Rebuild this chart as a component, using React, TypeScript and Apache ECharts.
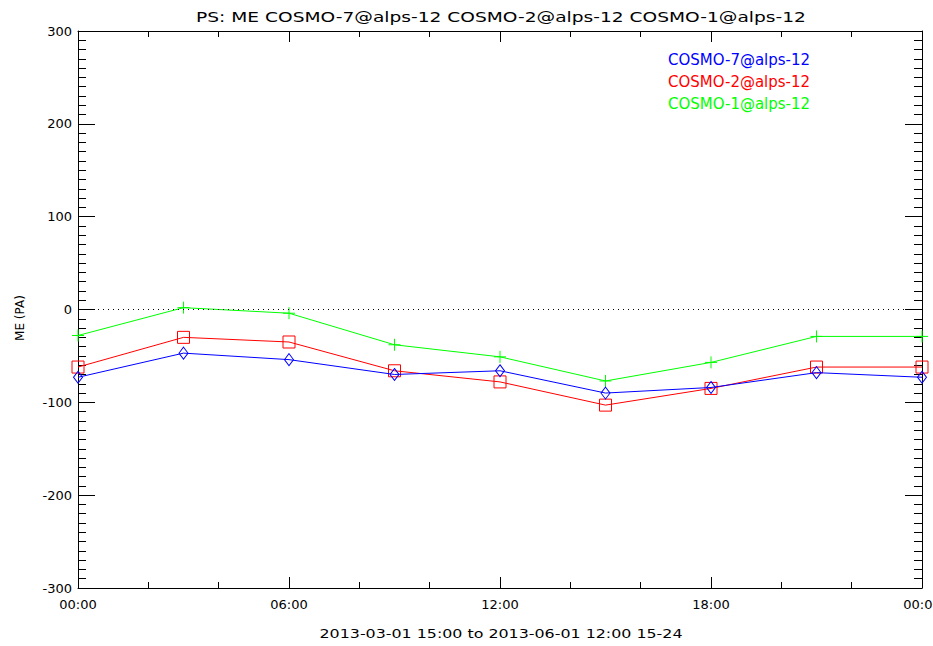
import React, { useEffect, useRef } from "react";
import * as echarts from "echarts";

const hours = [0, 3, 6, 9, 12, 15, 18, 21, 24];
const cosmo7 = [-73, -47, -54, -70, -66, -90, -84, -68, -73];
const cosmo2 = [-62, -30, -35, -66, -78, -103, -85, -62, -62];
const cosmo1 = [-28, 2, -4, -38, -51, -77, -57, -29, -29];
const seriesNames = ["COSMO-7@alps-12", "COSMO-2@alps-12", "COSMO-1@alps-12"];
const seriesColors = ["#0000ff", "#ff0000", "#00ff00"];
const titleText = "PS: ME COSMO-7@alps-12 COSMO-2@alps-12 COSMO-1@alps-12";
const xName = "2013-03-01 15:00 to 2013-06-01 12:00 15-24";
const yName = "ME (PA)";

const FONT = "DejaVu Sans";

const pair = (ys: number[]) => hours.map((h, i) => [h, ys[i]]);

export default function App() {
  const ref = useRef<HTMLDivElement>(null);
  useEffect(() => {
    if (!ref.current) return;
    const chart = echarts.init(ref.current, null, { renderer: "svg" });
    const fmtX = (v: number) => {
      const h = v % 24;
      return (h < 10 ? "0" : "") + h + ":00";
    };
    const xCommon = {
      type: "value",
      min: 0,
      max: 24,
      interval: 6,
      axisLine: { show: true, onZero: false, lineStyle: { color: "#000", width: 1 } },
      axisTick: { show: true, inside: true, length: 11, lineStyle: { color: "#000" } },
      minorTick: { show: true, splitNumber: 3, length: 6, lineStyle: { color: "#000" } },
      splitLine: { show: false },
    };
    const yCommon = {
      type: "value",
      min: -300,
      max: 300,
      interval: 100,
      axisLine: { show: true, onZero: false, lineStyle: { color: "#000", width: 1 } },
      axisTick: { show: true, inside: true, length: 17, lineStyle: { color: "#000" } },
      minorTick: { show: true, splitNumber: 10, length: 8, lineStyle: { color: "#000" } },
      splitLine: { show: false },
    };
    const symbols = ["diamond", "rect", "path://M5 0 L5 10 M0 5 L10 5"];
    const sizes: any[] = [[9, 12], [12, 12], [12, 12]];
    const datas = [cosmo7, cosmo2, cosmo1];
    const series: any[] = datas.map((d, i) => ({
      type: "line",
      name: seriesNames[i],
      data: pair(d),
      symbol: symbols[i],
      symbolSize: sizes[i],
      showSymbol: true,
      lineStyle: { color: seriesColors[i], width: 1 },
      itemStyle: {
        color: i === 2 ? seriesColors[i] : "rgba(0,0,0,0)",
        borderColor: seriesColors[i],
        borderWidth: 1,
      },
      clip: true,
      z: 3 - i,
    }));
    series[0].markLine = {
      silent: true,
      symbol: ["none", "none"],
      label: { show: false },
      lineStyle: { type: [1, 4], color: "#000", width: 1 },
      data: [{ yAxis: 0 }],
    };
    const legendGraphics = seriesNames.map((n, i) => ({
      type: "text",
      x: 668,
      y: 60 + i * 22,
      style: {
        text: n,
        fontSize: 15,
        fontFamily: FONT,
        fill: seriesColors[i],
        align: "left",
        verticalAlign: "middle",
      },
    }));
    chart.setOption({
      animation: false,
      backgroundColor: "#fff",
      textStyle: { fontFamily: FONT },
      grid: {
        left: 78,
        right: 11,
        top: 31,
        bottom: 58,
        containLabel: false,
        outerBoundsMode: "none",
      },
      xAxis: [
        {
          ...xCommon,
          position: "bottom",
          axisLabel: {
            show: true,
            color: "#000",
            fontSize: 13,
            fontFamily: FONT,
            margin: 10,
            showMinLabel: true,
            showMaxLabel: true,
            formatter: fmtX,
          },
        },
        { ...xCommon, position: "top", axisLabel: { show: false } },
      ],
      yAxis: [
        {
          ...yCommon,
          position: "left",
          axisLabel: { show: true, color: "#000", fontSize: 13, fontFamily: FONT, margin: 6 },
        },
        { ...yCommon, position: "right", axisLabel: { show: false } },
      ],
      series,
      graphic: [
        {
          type: "text",
          x: 501,
          y: 17,
          scaleX: 1.33,
          style: {
            text: titleText,
            fontSize: 14,
            fontFamily: FONT,
            fill: "#000",
            align: "center",
            verticalAlign: "middle",
          },
        },
        {
          type: "text",
          x: 501,
          y: 634,
          scaleX: 1.22,
          style: {
            text: xName,
            fontSize: 13,
            fontFamily: FONT,
            fill: "#000",
            align: "center",
            verticalAlign: "middle",
          },
        },
        {
          type: "text",
          x: 20,
          y: 318,
          rotation: Math.PI / 2,
          style: {
            text: yName,
            fontSize: 12,
            fontFamily: FONT,
            fill: "#000",
            align: "center",
            verticalAlign: "middle",
          },
        },
        ...legendGraphics,
      ],
    });
    return () => chart.dispose();
  }, []);
  return (
    <div
      ref={ref}
      style={{ position: "absolute", left: 0, top: 0, width: 933, height: 646 }}
    />
  );
}
